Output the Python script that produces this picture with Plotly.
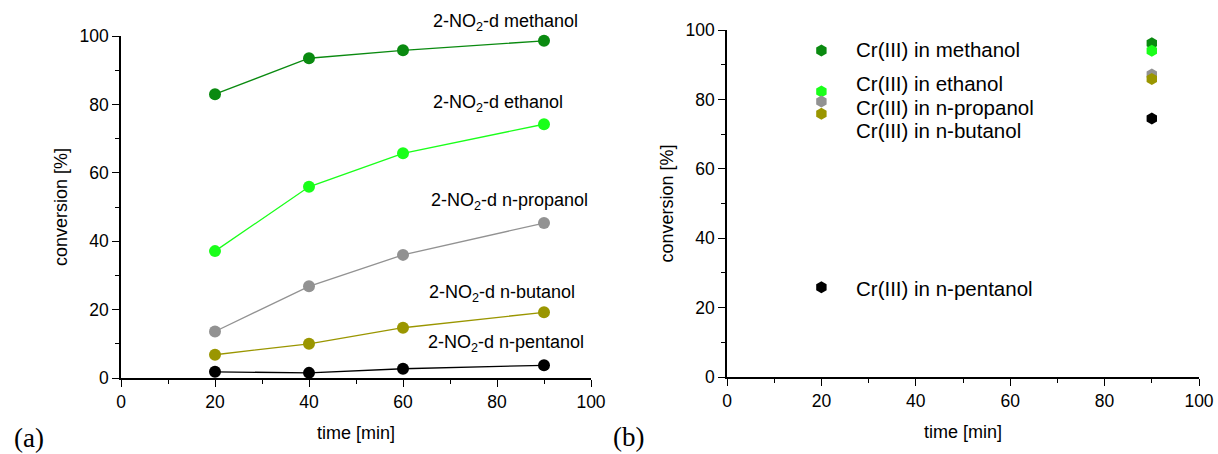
import plotly.graph_objects as go

# ---------------- data ----------------
time_a = [20, 40, 60, 90]
nitro_methanol = [83.0, 93.5, 95.8, 98.6]
nitro_ethanol = [37.1, 55.9, 65.7, 74.2]
nitro_propanol = [13.6, 26.8, 36.0, 45.3]
nitro_butanol = [6.8, 10.0, 14.7, 19.2]
nitro_pentanol = [1.8, 1.5, 2.7, 3.7]

time_b = [20, 90]
cr_methanol = [94.1, 96.2]
cr_ethanol = [82.3, 94.0]
cr_propanol = [79.4, 87.2]
cr_butanol = [75.9, 85.9]
cr_pentanol = [25.9, 74.5]

names_a = ["2-NO<sub>2</sub>-d methanol", "2-NO<sub>2</sub>-d ethanol",
           "2-NO<sub>2</sub>-d n-propanol", "2-NO<sub>2</sub>-d n-butanol",
           "2-NO<sub>2</sub>-d n-pentanol"]
names_b = ["Cr(III) in methanol", "Cr(III) in ethanol", "Cr(III) in n-propanol",
           "Cr(III) in n-butanol", "Cr(III) in n-pentanol"]
# label anchor (x, y) in data units plus extra pixel shift for the one above the axis top
label_pos_a = [(66.0, 100.0, 13.0), (66.0, 80.3, 0), (65.6, 51.6, 0), (65.0, 24.7, 0), (64.9, 10.2, 0)]
label_pos_b = [(26.8, 94.5), (27.0, 84.6), (26.8, 77.7), (26.8, 71.0), (26.8, 25.6)]

colors = ["#0a8a10", "#1aff1a", "#929292", "#9a9600", "#000000"]

series_a = [nitro_methanol, nitro_ethanol, nitro_propanol, nitro_butanol, nitro_pentanol]
series_b = [cr_methanol, cr_ethanol, cr_propanol, cr_butanol, cr_pentanol]

FONT = "Liberation Sans, Arial, sans-serif"

fig = go.Figure()

for vals, col, nm in zip(series_a, colors, names_a):
    fig.add_trace(go.Scatter(
        x=time_a, y=vals, mode="lines+markers", name=nm,
        line=dict(color=col, width=1.3),
        marker=dict(color=col, size=12, symbol="circle"),
        xaxis="x", yaxis="y", cliponaxis=False, showlegend=False))

for vals, col, nm in zip(series_b, colors, names_b):
    fig.add_trace(go.Scatter(
        x=time_b, y=vals, mode="markers", name=nm,
        marker=dict(color=col, size=12, symbol="hexagon"),
        xaxis="x2", yaxis="y2", cliponaxis=False, showlegend=False))

annotations = []
for (ax, ay, sh), nm in zip(label_pos_a, names_a):
    annotations.append(dict(x=ax, y=ay, yshift=sh, xref="x", yref="y", text=nm, showarrow=False,
                            xanchor="left", yanchor="middle",
                            font=dict(family=FONT, size=18, color="black")))
for (bx, by), nm in zip(label_pos_b, names_b):
    annotations.append(dict(x=bx, y=by, xref="x2", yref="y2", text=nm, showarrow=False,
                            xanchor="left", yanchor="middle",
                            font=dict(family=FONT, size=20.5, color="black")))

annotations.append(dict(x=12 / 1218, y=1 - 438 / 454, xref="paper", yref="paper", text="(a)",
                        showarrow=False, xanchor="left", yanchor="middle",
                        font=dict(family="Liberation Serif, Times New Roman, serif", size=27, color="black")))
annotations.append(dict(x=611 / 1218, y=1 - 437 / 454, xref="paper", yref="paper", text="(b)",
                        showarrow=False, xanchor="left", yanchor="middle",
                        font=dict(family="Liberation Serif, Times New Roman, serif", size=27, color="black")))

axis_common = dict(
    range=[0, 100], showgrid=False, zeroline=False, showline=True,
    linecolor="black", linewidth=1.5, ticks="outside", ticklen=7, tickwidth=1.3,
    tickcolor="black", dtick=20, tick0=0, automargin=False,
    tickfont=dict(family=FONT, size=17.5, color="black"),
    minor=dict(ticks="outside", ticklen=4, tickwidth=1.2, tickcolor="black", dtick=10, showgrid=False),
    fixedrange=True,
)

title_font = dict(family=FONT, size=18, color="black")

fig.update_layout(
    width=1218, height=454,
    margin=dict(l=0, r=0, t=0, b=0),
    paper_bgcolor="white", plot_bgcolor="white",
    xaxis=dict(axis_common, domain=[121 / 1218, 591 / 1218], anchor="y",
               title=dict(text="time [min]", font=title_font, standoff=16)),
    yaxis=dict(axis_common, domain=[1 - 378 / 454, 1 - 36 / 454], anchor="x",
               title=dict(text="conversion [%]", font=title_font, standoff=7)),
    xaxis2=dict(axis_common, domain=[727 / 1218, 1199 / 1218], anchor="y2",
                title=dict(text="time [min]", font=title_font, standoff=16)),
    yaxis2=dict(axis_common, domain=[1 - 377 / 454, 1 - 30 / 454], anchor="x2",
                title=dict(text="conversion [%]", font=title_font, standoff=7)),
    annotations=annotations,
)

fig.write_html("out.html", config={"displayModeBar": False},
               post_script="document.body.style.margin='0';document.body.style.overflow='hidden';")
